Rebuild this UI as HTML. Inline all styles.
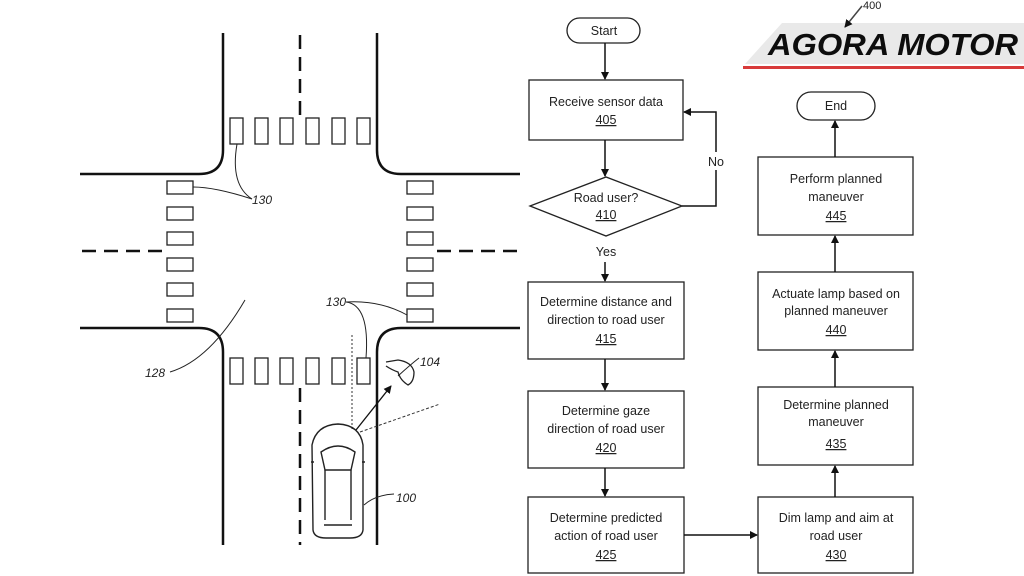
<!DOCTYPE html>
<html><head><style>
html,body{margin:0;padding:0;background:#fff;}
svg{display:block;}
text{font-family:"Liberation Sans",sans-serif;}
.t{font-size:12.5px;fill:#222;text-anchor:middle;}
</style></head><body>
<svg width="1024" height="576" viewBox="0 0 1024 576" xmlns="http://www.w3.org/2000/svg">
<defs>
<marker id="ah" markerWidth="8" markerHeight="8" refX="7" refY="4" orient="auto" markerUnits="userSpaceOnUse"><path d="M0,0 L8,4 L0,8 z" fill="#111"/></marker>
<marker id="ah2" markerWidth="10" markerHeight="10" refX="9" refY="5" orient="auto" markerUnits="userSpaceOnUse"><path d="M0,0 L10,5 L0,10 z" fill="#111"/></marker>
</defs>
<rect width="1024" height="576" fill="#fff"/>
<!-- roads -->
<g fill="none" stroke="#111" stroke-width="2.5">
<path d="M223,33 V150 Q223,174 199,174 H80"/>
<path d="M377,33 V150 Q377,174 401,174 H520"/>
<path d="M80,328 H199 Q223,328 223,352 V545"/>
<path d="M520,328 H401 Q377,328 377,352 V545"/>
</g>
<g stroke="#111" stroke-width="2.5" stroke-dasharray="14,8" fill="none">
<path d="M300,35 V117"/>
<path d="M300,388 V545"/>
<path d="M82,251 H165"/>
<path d="M437,251 H520"/>
</g>
<!-- crosswalks -->
<g fill="none" stroke="#222" stroke-width="1.3">
<rect x="230" y="118" width="13" height="26"/><rect x="255" y="118" width="13" height="26"/><rect x="280" y="118" width="13" height="26"/><rect x="306" y="118" width="13" height="26"/><rect x="332" y="118" width="13" height="26"/><rect x="357" y="118" width="13" height="26"/>
<rect x="230" y="358" width="13" height="26"/><rect x="255" y="358" width="13" height="26"/><rect x="280" y="358" width="13" height="26"/><rect x="306" y="358" width="13" height="26"/><rect x="332" y="358" width="13" height="26"/><rect x="357" y="358" width="13" height="26"/>
<rect x="167" y="181" width="26" height="13"/><rect x="167" y="207" width="26" height="13"/><rect x="167" y="232" width="26" height="13"/><rect x="167" y="258" width="26" height="13"/><rect x="167" y="283" width="26" height="13"/><rect x="167" y="309" width="26" height="13"/>
<rect x="407" y="181" width="26" height="13"/><rect x="407" y="207" width="26" height="13"/><rect x="407" y="232" width="26" height="13"/><rect x="407" y="258" width="26" height="13"/><rect x="407" y="283" width="26" height="13"/><rect x="407" y="309" width="26" height="13"/>
</g>
<!-- leader lines -->
<g fill="none" stroke="#222" stroke-width="1">
<path d="M237,144 Q230,185 252,199"/>
<path d="M193,187 Q215,187 252,199"/>
<path d="M245,300 Q210,360 170,372"/>
<path d="M346,302 Q370,305 366,358"/>
<path d="M346,302 Q380,300 407,315"/>
<path d="M419,358 Q410,365 398,376"/>
<path d="M364,505 Q375,495 394,494"/>
</g>
<text x="252" y="204" font-size="12" font-style="italic" fill="#222">130</text>
<text x="326" y="306" font-size="12" font-style="italic" fill="#222">130</text>
<text x="145" y="377" font-size="12" font-style="italic" fill="#222">128</text>
<text x="420" y="366" font-size="12" font-style="italic" fill="#222">104</text>
<text x="396" y="502" font-size="12" font-style="italic" fill="#222">100</text>
<!-- pedestrian -->
<path d="M386,362 L398,360 Q412,362 414,372 Q414,382 408,385 Q400,380 398,372 Q392,370 386,366" fill="none" stroke="#222" stroke-width="1.3"/>
<!-- sight lines -->
<path d="M352,335 V430" stroke="#333" stroke-width="1" stroke-dasharray="2,2"/>
<path d="M360,432 L440,404" stroke="#333" stroke-width="1" stroke-dasharray="3,2"/>
<path d="M356,430 L391,386" stroke="#111" stroke-width="1.3" marker-end="url(#ah)"/>
<!-- car -->
<g fill="none" stroke="#222" stroke-width="1.4">
<path d="M312,445 Q316,425 338,424 Q360,425 363,445 L363,530 Q362,538 350,538 L326,538 Q314,538 313,530 Z"/>
<path d="M321,452 Q338,440 355,452 L351,470 L325,470 Z"/>
<path d="M325,470 L325,520 M351,470 L351,520"/>
<path d="M324,525 L352,525"/>
<path d="M311,462 L314,462 M362,462 L365,462"/>
</g>
<!-- logo -->
<polygon points="782,23 1024,23 1024,64 745,64" fill="#e9e9e9"/>
<rect x="743" y="66" width="281" height="3" fill="#d83a3a"/>
<text x="768" y="55" font-size="31" font-weight="bold" font-style="italic" fill="#0d0d0d" textLength="250" lengthAdjust="spacingAndGlyphs">AGORA MOTOR</text>
<text x="863" y="9" font-size="11" fill="#222">400</text>
<path d="M862,6 L845,27" stroke="#444" stroke-width="1.5" marker-end="url(#ah)"/>
<!-- flowchart -->
<g fill="#fff" stroke="#222" stroke-width="1.3">
<rect x="567" y="18" width="73" height="25" rx="12.5"/>
<rect x="529" y="80" width="154" height="60"/>
<polygon points="530,206 606,177 682,206 606,236"/>
<rect x="528" y="282" width="156" height="77"/>
<rect x="528" y="391" width="156" height="77"/>
<rect x="528" y="497" width="156" height="76"/>
<rect x="797" y="92" width="78" height="28" rx="14"/>
<rect x="758" y="157" width="155" height="78"/>
<rect x="758" y="272" width="155" height="78"/>
<rect x="758" y="387" width="155" height="78"/>
<rect x="758" y="497" width="155" height="76"/>
</g>
<g stroke="#111" stroke-width="1.5" fill="none" marker-end="url(#ah)">
<path d="M605,43 V79"/>
<path d="M605,140 V176"/>
<path d="M605,262 V281"/>
<path d="M605,359 V390"/>
<path d="M605,468 V496"/>
<path d="M684,535 H757"/>
<path d="M835,497 V466"/>
<path d="M835,387 V351"/>
<path d="M835,272 V236"/>
<path d="M835,157 V121"/>
<path d="M682,206 H716 V112 H684"/>
</g>
<rect x="700" y="152" width="30" height="18" fill="#fff"/>
<text x="716" y="166" class="t">No</text>
<text x="606" y="256" class="t">Yes</text>
<text x="604" y="35" class="t">Start</text>
<text x="836" y="110" class="t">End</text>
<g class="t">
<text x="606" y="106" class="t">Receive sensor data</text><text x="606" y="124" class="t" text-decoration="underline">405</text>
<text x="606" y="202" class="t">Road user?</text><text x="606" y="219" class="t" text-decoration="underline">410</text>
<text x="606" y="306" class="t">Determine distance and</text><text x="606" y="324" class="t">direction to road user</text><text x="606" y="343" class="t" text-decoration="underline">415</text>
<text x="606" y="415" class="t">Determine gaze</text><text x="606" y="433" class="t">direction of road user</text><text x="606" y="452" class="t" text-decoration="underline">420</text>
<text x="606" y="522" class="t">Determine predicted</text><text x="606" y="540" class="t">action of road user</text><text x="606" y="559" class="t" text-decoration="underline">425</text>
<text x="836" y="183" class="t">Perform planned</text><text x="836" y="201" class="t">maneuver</text><text x="836" y="220" class="t" text-decoration="underline">445</text>
<text x="836" y="298" class="t">Actuate lamp based on</text><text x="836" y="315" class="t">planned maneuver</text><text x="836" y="334" class="t" text-decoration="underline">440</text>
<text x="836" y="409" class="t">Determine planned</text><text x="836" y="426" class="t">maneuver</text><text x="836" y="448" class="t" text-decoration="underline">435</text>
<text x="836" y="522" class="t">Dim lamp and aim at</text><text x="836" y="540" class="t">road user</text><text x="836" y="559" class="t" text-decoration="underline">430</text>
</g>
</svg>
</body></html>
